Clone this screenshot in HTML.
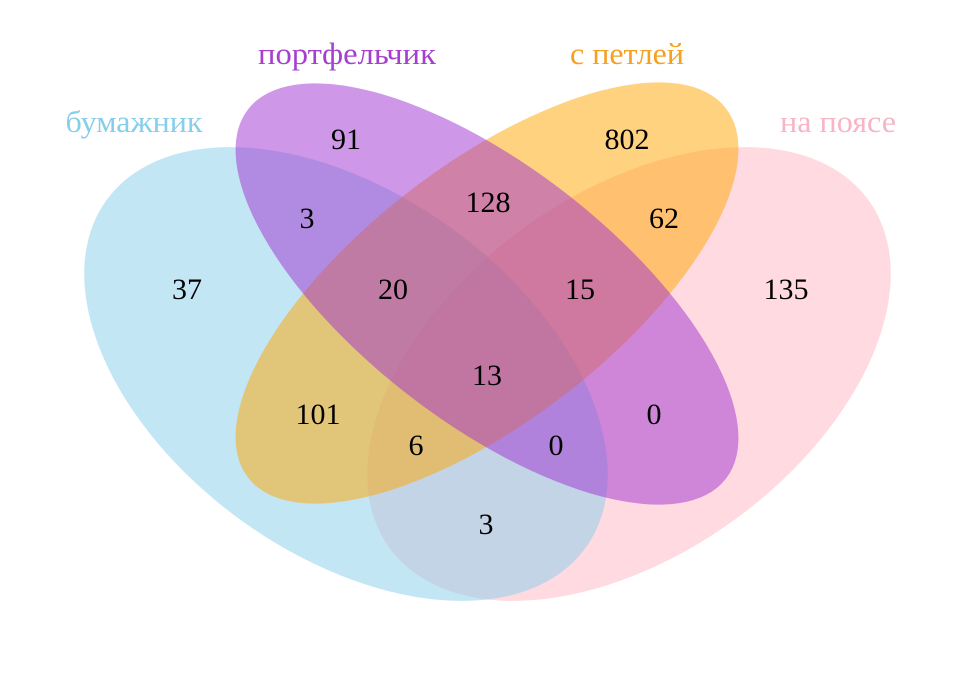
<!DOCTYPE html>
<html><head><meta charset="utf-8"><style>html,body{margin:0;padding:0;background:#fff}</style></head>
<body>
<svg width="957" height="674" viewBox="0 0 957 674" xmlns="http://www.w3.org/2000/svg">
<g fill-opacity="0.5">
<ellipse cx="629" cy="374" rx="296" ry="180" transform="rotate(-36 629 374)" fill="#FFB6C1"/>
<ellipse cx="346" cy="374" rx="296" ry="180" transform="rotate(36 346 374)" fill="#87CEEB"/>
<ellipse cx="487" cy="293" rx="302" ry="128" transform="rotate(-37.7 487 293)" fill="#FFA500"/>
<ellipse cx="487" cy="294" rx="302" ry="128" transform="rotate(37.7 487 294)" fill="#A030D0"/>
</g>
<g font-family="Liberation Serif, serif" font-size="31" text-anchor="middle">
<text x="134" y="132" fill="#87CEEB" textLength="137" lengthAdjust="spacingAndGlyphs">бумажник</text>
<text x="347" y="64" fill="#A63FD0" textLength="178" lengthAdjust="spacingAndGlyphs">портфельчик</text>
<text x="627" y="64" fill="#F5A020" textLength="114" lengthAdjust="spacingAndGlyphs">с петлей</text>
<text x="838" y="132" fill="#F7B6C6" textLength="116" lengthAdjust="spacingAndGlyphs">на поясе</text>
</g>
<g font-family="Liberation Serif, serif" font-size="30" text-anchor="middle" fill="#000">
<text x="346" y="149">91</text>
<text x="627" y="149">802</text>
<text x="488" y="212">128</text>
<text x="307" y="228">3</text>
<text x="664" y="228">62</text>
<text x="187" y="299">37</text>
<text x="393" y="299">20</text>
<text x="580" y="299">15</text>
<text x="786" y="299">135</text>
<text x="487" y="385">13</text>
<text x="318" y="424">101</text>
<text x="654" y="424">0</text>
<text x="416" y="455">6</text>
<text x="556" y="455">0</text>
<text x="486" y="534">3</text>
</g>
</svg>
</body></html>
